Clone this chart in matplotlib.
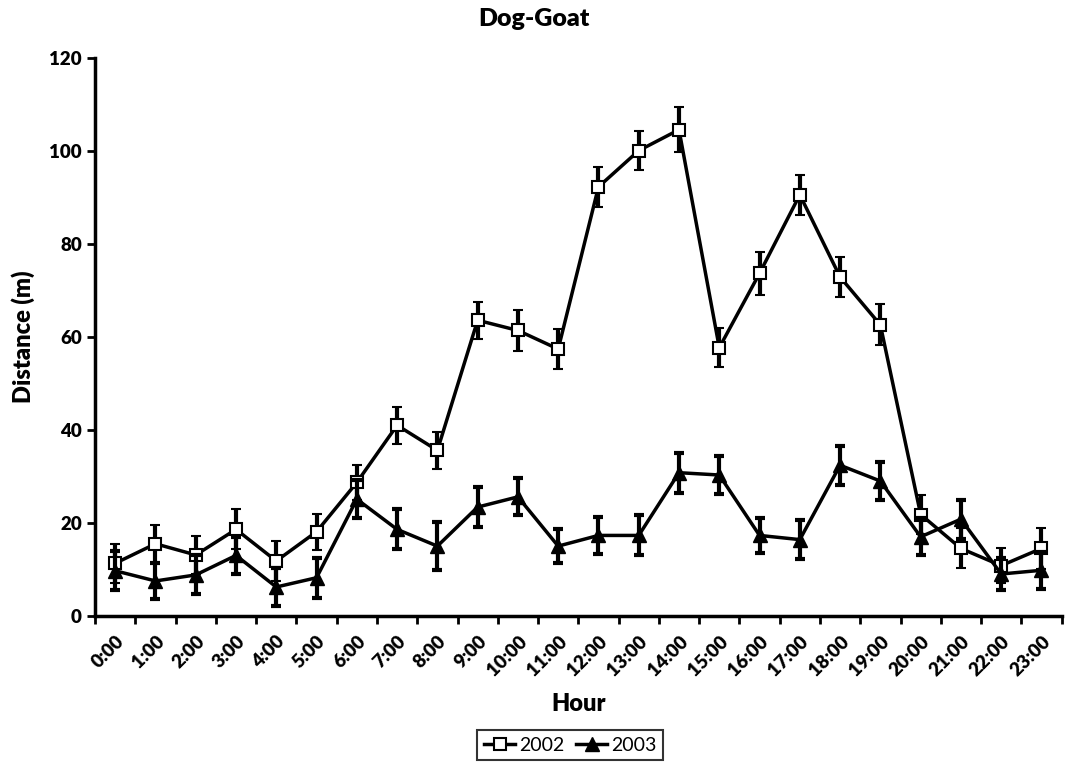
import matplotlib
matplotlib.use("Agg")
import matplotlib.pyplot as plt
from matplotlib.lines import Line2D
import numpy as np

hours = [f"{h}:00" for h in range(24)]

dist_2002 = [11.3, 15.5, 13.1, 18.6, 11.8, 18.1, 28.7, 41.0, 35.6, 63.6, 61.4, 57.4,
             92.3, 100.1, 104.6, 57.7, 73.7, 90.6, 72.9, 62.6, 21.8, 14.5, 10.8, 14.5]
err_2002 = [4.2, 4.1, 4.1, 4.3, 4.4, 3.9, 3.8, 4.0, 3.9, 4.0, 4.4, 4.3,
            4.3, 4.2, 4.8, 4.2, 4.6, 4.3, 4.4, 4.4, 4.2, 4.3, 3.8, 4.4]

dist_2003 = [9.7, 7.5, 8.8, 13.0, 6.2, 8.2, 25.1, 18.6, 15.0, 23.4, 25.6, 15.0,
             17.3, 17.3, 30.8, 30.3, 17.3, 16.4, 32.4, 29.0, 17.0, 20.8, 9.0, 9.8]
err_2003 = [4.2, 3.9, 4.2, 3.9, 4.0, 4.3, 4.1, 4.3, 5.2, 4.3, 4.0, 3.7,
            4.0, 4.3, 4.3, 4.1, 3.8, 4.2, 4.2, 4.0, 4.0, 4.2, 3.5, 4.0]

plt.rcParams['font.family'] = ['Lato', 'DejaVu Sans']

fig = plt.figure(figsize=(10.68, 7.65), dpi=100)
ax = fig.add_axes([0.089, 0.195, 0.905, 0.729])

x = np.arange(len(hours))

style_2002 = dict(color="black", lw=2.5, marker="s", ms=9, mfc="white", mec="black", mew=1.5)
style_2003 = dict(color="black", lw=2.5, marker="^", ms=10, mfc="black", mec="black")

ax.errorbar(x, dist_2002, yerr=err_2002, elinewidth=3, capsize=3.5, capthick=3,
            zorder=3, **style_2002)
ax.errorbar(x, dist_2003, yerr=err_2003, elinewidth=3, capsize=3.5, capthick=3,
            zorder=4, **style_2003)

ax.set_xlim(-0.5, len(hours) - 0.5)
ax.set_ylim(0, 120)
ax.set_yticks(range(0, 121, 20))

# labels at category centres, tick marks at category boundaries
ax.set_xticks(x)
ax.set_xticklabels(hours, rotation=45, ha="right", rotation_mode="anchor", fontsize=13.5)
ax.set_xticks(np.arange(-0.5, len(hours), 1), minor=True)
ax.tick_params(axis="x", which="major", length=0, pad=12)
ax.tick_params(axis="x", which="minor", length=6, width=2)
ax.tick_params(axis="y", length=6, width=2, labelsize=13.5)
for t in ax.get_yticklabels() + ax.get_xticklabels():
    t.set_fontweight("heavy")

for s in ["top", "right"]:
    ax.spines[s].set_visible(False)
for s in ["left", "bottom"]:
    ax.spines[s].set_linewidth(2.5)

ax.set_xlabel("Hour", fontsize=17, fontweight="heavy", labelpad=10)
ax.set_ylabel("Distance (m)", fontsize=17, fontweight="heavy", labelpad=10)
fig.suptitle("Dog-Goat", fontsize=18, fontweight="heavy", y=0.99)

handles = [Line2D([], [], **style_2002), Line2D([], [], **style_2003)]
leg = fig.legend(handles, ["2002", "2003"], loc="center", bbox_to_anchor=(0.534, 0.026),
                 ncol=2, fontsize=14, frameon=True, fancybox=False, edgecolor="black",
                 handlelength=1.6, handletextpad=0.2, columnspacing=0.6,
                 borderpad=0.35)
leg.get_frame().set_linewidth(1.5)

fig.savefig("out.png", dpi=100)
